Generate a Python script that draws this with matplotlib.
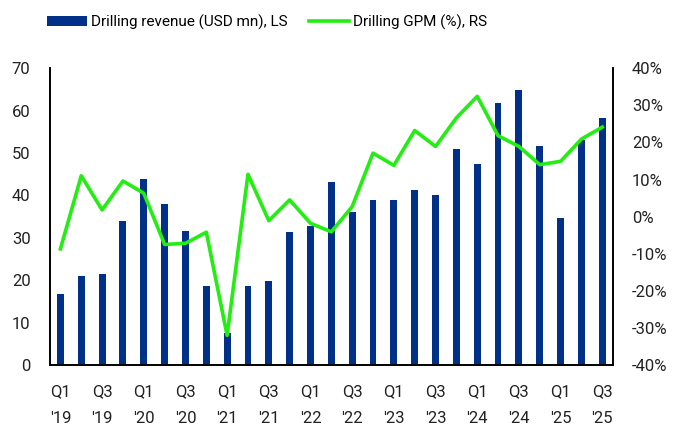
import matplotlib
matplotlib.use("Agg")
import matplotlib.pyplot as plt
import numpy as np

quarters = ["Q1\n'19", "Q2\n'19", "Q3\n'19", "Q4\n'19",
            "Q1\n'20", "Q2\n'20", "Q3\n'20", "Q4\n'20",
            "Q1\n'21", "Q2\n'21", "Q3\n'21", "Q4\n'21",
            "Q1\n'22", "Q2\n'22", "Q3\n'22", "Q4\n'22",
            "Q1\n'23", "Q2\n'23", "Q3\n'23", "Q4\n'23",
            "Q1\n'24", "Q2\n'24", "Q3\n'24", "Q4\n'24",
            "Q1\n'25", "Q2\n'25", "Q3\n'25"]
revenue = [16.7, 21.1, 21.5, 33.9, 43.8, 38.0, 31.5, 18.6,
           7.5, 18.6, 19.8, 31.4, 32.9, 43.2, 36.2, 38.9,
           38.9, 41.3, 40.0, 50.9, 47.5, 61.9, 64.9, 51.7,
           34.6, 53.0, 58.2]
gpm = [-8.7, 11.0, 1.8, 9.6, 6.3, -7.5, -7.2, -4.2,
       -32.0, 11.4, -1.1, 4.5, -1.8, -4.1, 2.7, 17.1,
       13.8, 23.2, 18.9, 26.6, 32.4, 21.8, 18.9, 14.0,
       14.9, 20.9, 24.1]

plt.rcParams['font.family'] = ['Roboto', 'DejaVu Sans']

fig = plt.figure(figsize=(6.8, 4.26), dpi=100)
ax = fig.add_axes([0.0735, 0.143, 0.8275, 0.697])
ax2 = ax.twinx()

x = np.arange(len(quarters))
bars = ax.bar(x, revenue, width=0.33, color='#003087', label='Drilling revenue (USD mn), LS', zorder=2)
line, = ax2.plot(x, gpm, color='#22EE11', lw=2.6, label='Drilling GPM (%), RS', zorder=3)

ax.set_xlim(-0.5, len(quarters) - 0.5)
ax.set_ylim(0, 70)
ax.set_yticks(range(0, 71, 10))
ax2.set_ylim(-40, 40)
ax2.set_yticks(range(-40, 41, 10))
ax2.set_yticklabels([f"{v}%" for v in range(-40, 41, 10)])

ax.set_xticks(x[::2])
ax.set_xticklabels(quarters[::2], linespacing=1.95)

for a in (ax, ax2):
    a.spines['top'].set_visible(False)
    for s in ('left', 'right', 'bottom'):
        a.spines[s].set_linewidth(1.2)
        a.spines[s].set_color('black')
    a.tick_params(axis='both', length=0, labelsize=12, colors='#222222')
ax.tick_params(axis='y', pad=14)
ax.tick_params(axis='x', pad=14)
ax2.tick_params(axis='y', pad=14)

ax2.set_zorder(ax.get_zorder() + 1)
ax2.patch.set_visible(False)

fig.legend([bars, line], [bars.get_label(), line.get_label()],
           loc='center', bbox_to_anchor=(0.393, 0.948), ncol=2, frameon=False,
           fontsize=11, handlelength=2.6, handletextpad=0.3, columnspacing=1.4)

fig.savefig("out.png", dpi=100)
